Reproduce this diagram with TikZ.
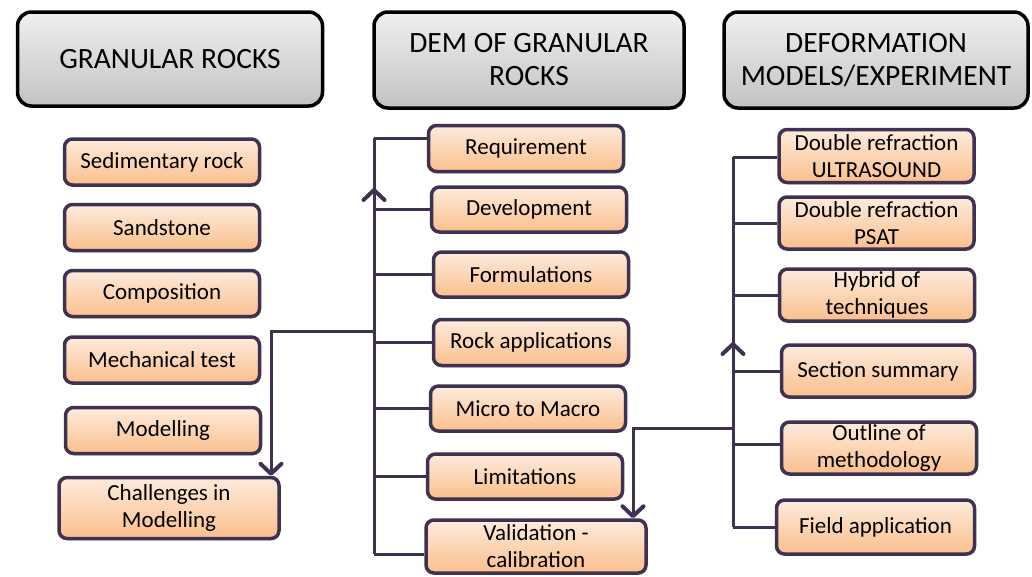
\documentclass[tikz,border=0pt]{standalone}
\usepackage{fontspec}
\setmainfont{Carlito}
\usepackage{xcolor}
\usepackage{tikz}
\usetikzlibrary{arrows.meta,shadows}
\definecolor{linepurple}{HTML}{3F3151}
\definecolor{peachtop}{HTML}{FDEBDD}
\definecolor{peachbot}{HTML}{FABF8C}
\definecolor{headtop}{HTML}{F0F0F0}
\definecolor{headbot}{HTML}{C2C2C2}

\begin{document}
\begin{tikzpicture}[
  x=1pt, y=-1pt,
  head/.style={draw=black, line width=3.5pt, rounded corners=14pt,
    top color=headtop, bottom color=headbot, align=center,
    minimum width=305pt, minimum height=94pt,
    font=\fontsize{29.5}{33}\selectfont,
    drop shadow={opacity=0.25, shadow xshift=1pt, shadow yshift=-2pt}},
  item/.style={draw=linepurple, line width=3.5pt, rounded corners=8pt,
    top color=peachtop, bottom color=peachbot, align=center,
    minimum width=195pt, minimum height=46pt, inner sep=1pt,
    font=\fontsize{23}{27}\selectfont,
    drop shadow={opacity=0.25, shadow xshift=1pt, shadow yshift=-2pt}},
  link/.style={draw=linepurple, line width=3pt},
  tip/.style={-{Straight Barb[length=10pt,width=21pt,line width=4pt,round]}}
]
  \useasboundingbox (0,0) rectangle (1032,576);

  \node[head] (hrock) at (170,59) {GRANULAR ROCKS};
  \node[head, minimum width=310pt, minimum height=96pt] (hdem) at (529,60) {DEM OF GRANULAR\\ROCKS};
  \node[head, minimum width=304pt, minimum height=96pt] (hdef) at (876,60) {DEFORMATION\\MODELS/EXPERIMENT};

  \node[item] (sed) at (162,162) {Sedimentary rock};
  \node[item] (sand) at (162,227.5) {Sandstone};
  \node[item] (comp) at (162,293.5) {Composition};
  \node[item] (mech) at (162,360) {Mechanical test};
  \node[item] (model) at (163,430.5) {Modelling};
  \node[item, minimum width=220pt, minimum height=61pt] (chal) at (169,508) {Challenges in\\Modelling};

  \node[item] (req) at (526,148.5) {Requirement};
  \node[item, minimum height=45pt] (dev) at (529,209.5) {Development};
  \node[item, minimum height=45pt] (form) at (531,274.5) {Formulations};
  \node[item] (rock) at (531,342.5) {Rock applications};
  \node[item, minimum height=45pt] (micro) at (528,408.5) {Micro to Macro};
  \node[item, minimum height=45pt] (lim) at (525,476.5) {Limitations};
  \node[item, minimum width=220pt, minimum height=53pt] (valid) at (536,546.5) {Validation -\\calibration};

  \node[item, minimum height=53pt] (ultra) at (876.5,156) {Double refraction\\ULTRASOUND};
  \node[item, minimum height=52pt] (psat) at (876.5,223) {Double refraction\\PSAT};
  \node[item, minimum height=52pt] (hyb) at (877,295) {Hybrid of\\techniques};
  \node[item, minimum width=193pt, minimum height=52pt] (summ) at (878,371) {Section summary};
  \node[item, minimum height=52pt] (outl) at (879,448) {Outline of\\methodology};
  \node[item, minimum width=198pt, minimum height=54pt] (field) at (875.5,527) {Field application};

  \coordinate (mtop) at (374,138);
  \coordinate (mbot) at (374,554);
  \coordinate (mjoin) at (374,331);
  \coordinate (marrow) at (374,188);
  \coordinate (lturn) at (271,331);

  \coordinate (rtop) at (733,157);
  \coordinate (rbot) at (733,527);
  \coordinate (rjoin) at (733,428);
  \coordinate (rarrow) at (733,342);
  \coordinate (rturn) at (633,428);

  \draw[link] (mtop) -- (mbot);
  \draw[link] (mtop) -- (mtop -| req.west);
  \foreach \n in {dev,form,rock,micro,lim}
    \draw[link] (\n.west -| mtop) -- (\n.west);
  \draw[link] (mbot) -- (mbot -| valid.west);
  \draw[link,tip] (mjoin) -- (marrow);
  \draw[link,tip] (mjoin) -- (lturn) -- (lturn |- chal.north);

  \draw[link] (rtop) -- (rbot);
  \draw[link] (rtop) -- (rtop -| ultra.west);
  \foreach \n in {psat,hyb,summ}
    \draw[link] (\n.west -| rtop) -- (\n.west);
  \draw[link] (rtop |- 0,444) -- (outl.west |- 0,444);
  \draw[link] (rbot) -- (rbot -| field.west);
  \draw[link,tip] (rjoin) -- (rarrow);
  \draw[link,tip] (rjoin) -- (rturn) -- (rturn |- valid.north);
\end{tikzpicture}
\end{document}
